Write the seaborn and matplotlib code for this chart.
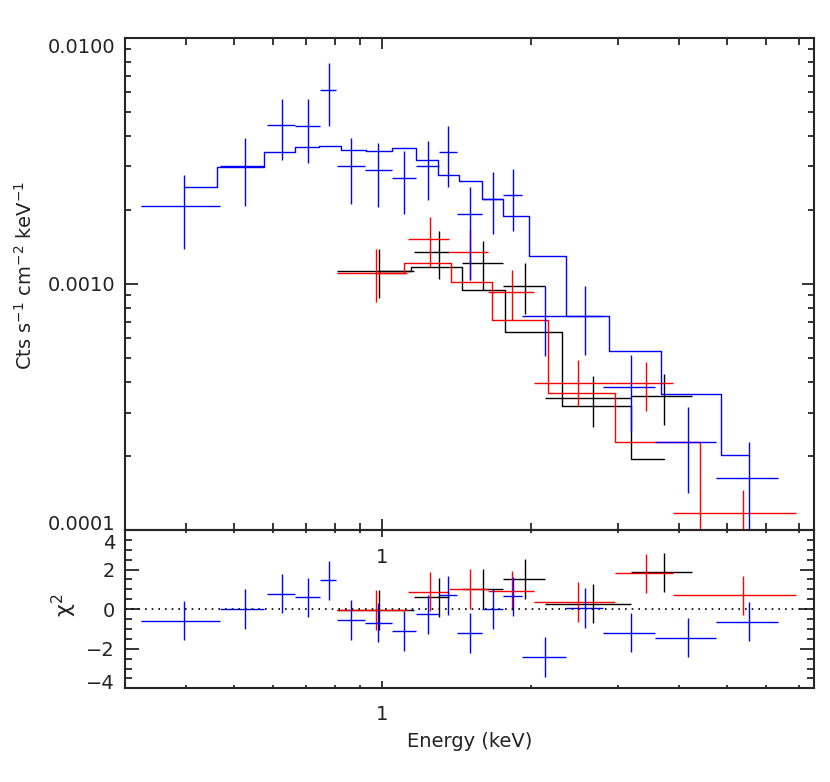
import numpy as np
import pandas as pd
import matplotlib
matplotlib.use("Agg")
import matplotlib.pyplot as plt
import matplotlib.ticker as mticker
import matplotlib.transforms as mtransforms
import seaborn as sns

# 파란색 데이터 (energy, bin edges, flux, errors, residual)
blue_e = [0.396, 0.525, 0.625, 0.707, 0.778, 0.863, 0.981, 1.106, 1.238, 1.359, 1.503, 1.676, 1.837, 2.138, 2.577, 3.186, 4.169, 5.535]
blue_lo = [0.324, 0.469, 0.582, 0.666, 0.746, 0.808, 0.921, 1.043, 1.172, 1.300, 1.414, 1.591, 1.756, 1.921, 2.358, 2.797, 3.577, 4.750]
blue_hi = [0.469, 0.576, 0.666, 0.746, 0.806, 0.921, 1.043, 1.172, 1.300, 1.414, 1.591, 1.756, 1.921, 2.358, 2.797, 3.577, 4.736, 6.352]
blue_f = [0.00208, 0.00300, 0.00442, 0.00439, 0.00614, 0.00300, 0.00289, 0.00269, 0.00300, 0.00343, 0.00192, 0.00222, 0.00229, 0.000742, 0.000742, 0.000382, 0.000228, 0.000162]
blue_up = [0.00278, 0.00391, 0.00565, 0.00565, 0.00788, 0.00391, 0.00373, 0.00346, 0.00379, 0.00439, 0.00247, 0.00286, 0.00294, 0.000981, 0.000981, 0.000513, 0.000316, 0.000227]
blue_dn = [0.00138, 0.00208, 0.00319, 0.00310, 0.00439, 0.00211, 0.00206, 0.00192, 0.00220, 0.00247, 0.00104, 0.00160, 0.00164, 0.000508, 0.000516, 0.000252, 0.000141, 0.00008]
blue_chi = [-0.58, 0.0, 0.78, 0.59, 1.45, -0.54, -0.68, -1.10, -0.27, 0.69, -1.22, 0.0, 0.64, -2.41, 0.05, -1.19, -1.44, -0.63]
blue_mod_edges = [0.396, 0.461, 0.576, 0.666, 0.742, 0.822, 0.924, 1.046, 1.172, 1.297, 1.431, 1.591, 1.754, 1.986, 2.358, 2.884, 3.679, 4.849, 5.535]
blue_mod = [0.00247, 0.00298, 0.00343, 0.00361, 0.00364, 0.00350, 0.00346, 0.00355, 0.00319, 0.00277, 0.00261, 0.00222, 0.00188, 0.00130, 0.000738, 0.000536, 0.000356, 0.000202]

# 빨간색 데이터
red_e = [0.968, 1.246, 1.503, 1.834, 2.490, 3.424, 5.392]
red_lo = [0.809, 1.126, 1.366, 1.637, 2.032, 2.959, 3.891]
red_hi = [1.119, 1.366, 1.637, 2.032, 2.959, 3.891, 6.887]
red_f = [0.00111, 0.00152, 0.00135, 0.000928, 0.000395, 0.000395, 0.000117]
red_up = [0.00138, 0.00187, 0.00166, 0.00114, 0.000489, 0.000483, 0.000145]
red_dn = [0.000845, 0.00117, 0.00104, 0.000716, 0.000319, 0.000303, 0.00008]
red_chi = [-0.05, 0.89, 1.03, 0.94, 0.37, 1.81, 0.69]
red_mod_edges = [0.968, 1.105, 1.375, 1.670, 2.165, 2.959, 4.401, 6.887]
red_mod = [0.00111, 0.00121, 0.00102, 0.000716, 0.000359, 0.000228, 0.000097]

# 검은색 데이터
blk_e = [0.983, 1.300, 1.601, 1.949, 2.667, 3.718]
blk_lo = [0.809, 1.156, 1.447, 1.758, 2.138, 3.186]
blk_hi = [1.156, 1.366, 1.758, 2.138, 3.186, 4.246]
blk_f = [0.00113, 0.00135, 0.00122, 0.000981, 0.000345, 0.000350]
blk_up = [0.00139, 0.00164, 0.00150, 0.00121, 0.000422, 0.000431]
blk_dn = [0.000877, 0.00105, 0.000946, 0.000755, 0.000263, 0.000267]
blk_chi = [-0.05, 0.59, 1.02, 1.52, 0.28, 1.86]
blk_mod_edges = [0.983, 1.145, 1.451, 1.775, 2.307, 3.192, 3.718]
blk_mod = [0.00113, 0.00117, 0.000946, 0.000636, 0.000319, 0.000195]

# 축 눈금 라벨
flux_ticks = [1e-4, 1e-3, 1e-2]
flux_labels = ["0.0001", "0.0010", "0.0100"]
chi_ticks = [-4, -2, 0, 2, 4]
chi_labels = ["\u22124", "\u22122", "0", "2", "4"]

datasets = [
    ("black", blk_e, blk_lo, blk_hi, blk_f, blk_up, blk_dn, blk_chi, blk_mod_edges, blk_mod),
    ("#ff0000", red_e, red_lo, red_hi, red_f, red_up, red_dn, red_chi, red_mod_edges, red_mod),
    ("#0000ff", blue_e, blue_lo, blue_hi, blue_f, blue_up, blue_dn, blue_chi, blue_mod_edges, blue_mod),
]

sns.set_style("ticks")
plt.rcParams["font.family"] = ["DejaVu Sans"]
plt.rcParams["axes.linewidth"] = 1.5
plt.rcParams["mathtext.default"] = "regular"
txt_color = "#222222"

fig = plt.figure(figsize=(8.3, 7.82), dpi=100)
ax1 = fig.add_axes([0.1502, 0.3223, 0.8305, 0.6294])
ax2 = fig.add_axes([0.1502, 0.1198, 0.8305, 0.2025])
ax2.set_facecolor("none")

for color, e, lo, hi, f, up, dn, chi, m_edges, m_vals in datasets:
    e = np.array(e); lo = np.array(lo); hi = np.array(hi)
    f = np.array(f); up = np.array(up); dn = np.array(dn)
    xerr = [e - lo, hi - e]
    ax1.errorbar(e, f, xerr=xerr, yerr=[f - dn, up - f], fmt="none",
                 ecolor=color, elinewidth=1.0, capsize=0)
    model_df = pd.DataFrame({"E": m_edges, "model": list(m_vals) + [m_vals[-1]]})
    sns.lineplot(data=model_df, x="E", y="model", ax=ax1, color=color,
                 drawstyle="steps-post", linewidth=1.0, estimator=None, sort=False)
    ax2.errorbar(e, chi, xerr=xerr, yerr=np.ones(len(e)), fmt="none",
                 ecolor=color, elinewidth=1.0, capsize=0)

ax2.axhline(0, color="black", linestyle=(0, (1, 3)), linewidth=1.2)

for ax in (ax1, ax2):
    ax.set_xscale("log")
    ax.set_xlim(0.3, 7.5)
    ax.xaxis.set_major_locator(mticker.FixedLocator([1]))
    ax.xaxis.set_major_formatter(mticker.FuncFormatter(lambda v, p: "1"))
    ax.xaxis.set_minor_locator(mticker.FixedLocator([0.4, 0.5, 0.6, 0.7, 0.8, 0.9, 2, 3, 4, 5, 6, 7]))
    ax.xaxis.set_minor_formatter(mticker.NullFormatter())
    ax.set_xlabel("")
    ax.set_ylabel("")
    for s in ax.spines.values():
        s.set_visible(True)
        s.set_linewidth(1.5)

ax1.set_yscale("log")
ax1.set_ylim(1e-4, 1e-2)
ax1.yaxis.set_major_locator(mticker.FixedLocator(flux_ticks))
# 양 끝 라벨은 IDL처럼 살짝 안쪽으로 옮겨 직접 그림
ax1.yaxis.set_major_formatter(mticker.FixedFormatter([""] + flux_labels[1:-1] + [""]))
ax1.yaxis.set_minor_locator(mticker.LogLocator(base=10, subs=np.arange(2, 10)))
ax1.yaxis.set_minor_formatter(mticker.NullFormatter())
ax1.tick_params(axis="x", which="major", direction="in", top=True, bottom=True, length=8, width=1.3, labelsize=14, pad=13, labelcolor=txt_color)
ax1.tick_params(axis="x", which="minor", direction="in", top=True, bottom=True, length=4.7, width=1.3)
ax1.tick_params(axis="y", which="major", direction="in", left=True, right=True, length=9, width=1.3, labelsize=14, pad=7, labelcolor=txt_color)
ax1.tick_params(axis="y", which="minor", direction="in", left=True, right=True, length=4.5, width=1.3)

ax2.set_ylim(-4, 4)
ax2.yaxis.set_major_locator(mticker.FixedLocator(chi_ticks))
ax2.yaxis.set_major_formatter(mticker.FixedFormatter([""] + chi_labels[1:-1] + [""]))
ax2.yaxis.set_minor_locator(mticker.MultipleLocator(0.5))
ax2.tick_params(axis="x", which="major", direction="in", top=True, bottom=True, length=5, width=1.3, labelsize=14, pad=12, labelcolor=txt_color)
ax2.tick_params(axis="x", which="minor", direction="in", top=True, bottom=True, length=2.5, width=1.3)
ax2.tick_params(axis="y", which="major", direction="in", left=True, right=True, length=10, width=1.3, labelsize=14, pad=7, labelcolor=txt_color)
ax2.tick_params(axis="y", which="minor", direction="in", left=True, right=True, length=5, width=1.3)


def edge_label(ax, y, s, va, dy_px):
    off = mtransforms.ScaledTranslation(-7 / 72, dy_px / 100, fig.dpi_scale_trans)
    ax.text(0, y, s, transform=ax.get_yaxis_transform() + off,
            ha="right", va=va, fontsize=14, color=txt_color)


edge_label(ax1, flux_ticks[-1], flux_labels[-1], "top", 0)
edge_label(ax1, flux_ticks[0], flux_labels[0], "center", 5)
edge_label(ax2, chi_ticks[-1], chi_labels[-1], "top", -4)
edge_label(ax2, chi_ticks[0], chi_labels[0], "center", 5)

fig.text(0.03, 0.648, "Cts s$^{-1}$ cm$^{-2}$ keV$^{-1}$", rotation=90, ha="center", va="center", fontsize=14, color=txt_color)
fig.text(0.077, 0.226, r"$\chi^2$", rotation=90, ha="center", va="center", fontsize=16, color=txt_color)
fig.text(0.566, 0.052, "Energy (keV)", ha="center", va="center", fontsize=14, color=txt_color)

fig.savefig("out.png", dpi=100)
